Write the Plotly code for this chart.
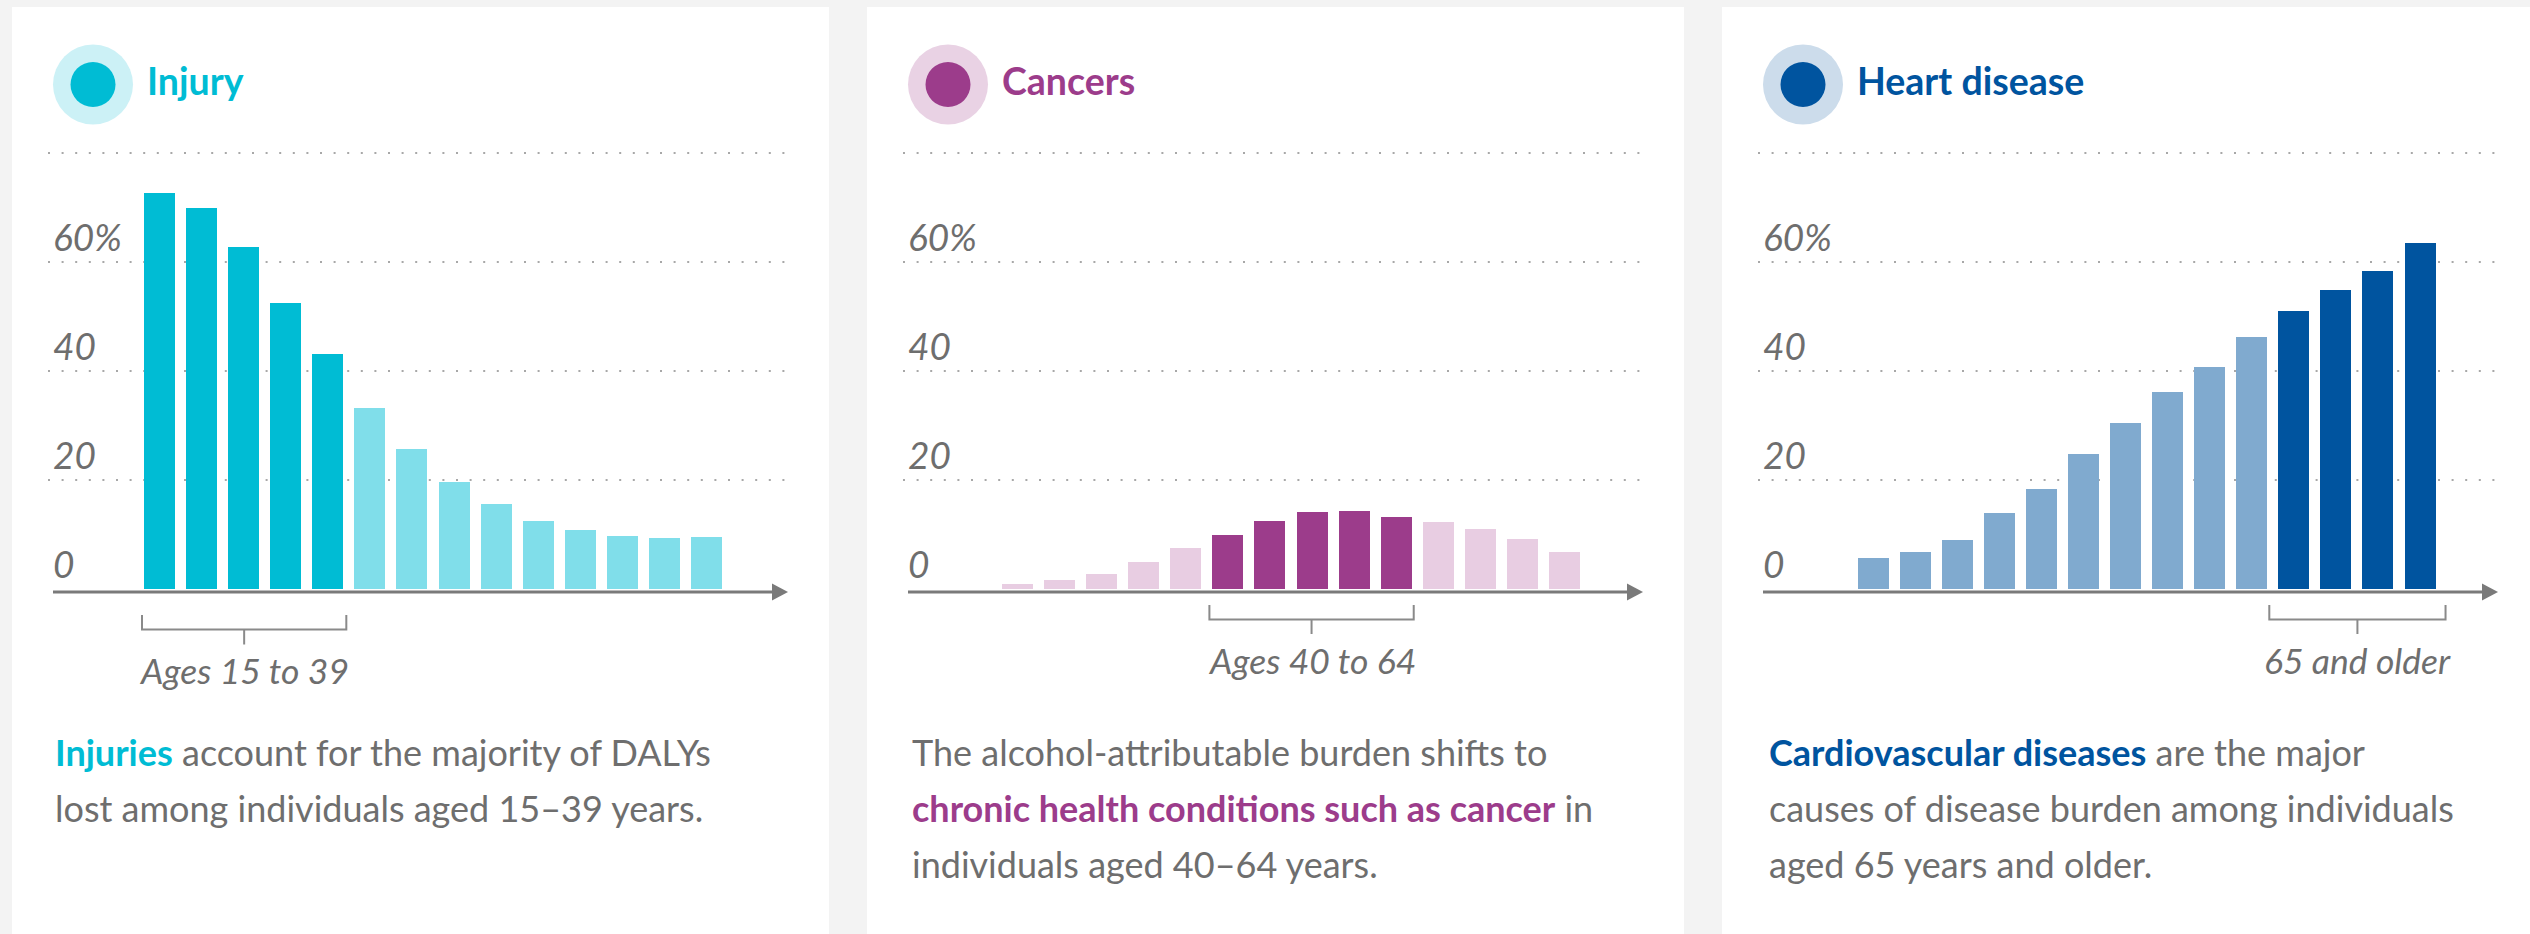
import plotly.graph_objects as go

W, H = 2530, 934

# ---------------- data ----------------
ages = ["15–19", "20–24", "25–29", "30–34", "35–39", "40–44", "45–49",
        "50–54", "55–59", "60–64", "65–69", "70–74", "75–79", "80+"]
injury = [72.6, 70.0, 62.7, 52.4, 43.2, 33.3, 25.7, 19.7, 15.6, 12.4, 10.9, 9.8, 9.3, 9.5]
cancers = [1.0, 1.6, 2.7, 4.9, 7.5, 10.0, 12.4, 14.1, 14.3, 13.3, 12.3, 11.1, 9.2, 6.7]
heart = [5.7, 6.8, 8.9, 14.0, 18.4, 24.8, 30.5, 36.2, 40.8, 46.3, 51.0, 54.9, 58.4, 63.4]
series = [injury, cancers, heart]

titles = ["Injury", "Cancers", "Heart disease"]
highlight = [(0, 4), (5, 9), (10, 13)]          # first/last highlighted age group
bracket_labels = ["Ages 15 to 39", "Ages 40 to 64", "65 and older"]
y_ticks = [0, 20, 40, 60]
y_tick_labels = ["0", "20", "40", "60%"]
grid_vals = [20, 40, 60, 80]

dark = ["#00BCD4", "#9C3C8B", "#00549F"]
light = ["#80DEEA", "#E8CDE2", "#80AACF"]
halo = ["#CCF1F6", "#E9D2E4", "#CCDCEB"]

body = [
    ["<span style='color:#00BCD4'><b>Injuries</b></span> account for the majority of DALYs",
     "lost among individuals aged 15–39 years."],
    ["The alcohol-attributable burden shifts to",
     "<span style='color:#9C3C8B'><b>chronic health conditions such as cancer</b></span> in",
     "individuals aged 40–64 years."],
    ["<span style='color:#00549F'><b>Cardiovascular diseases</b></span> are the major",
     "causes of disease burden among individuals",
     "aged 65 years and older."],
]

# ---------------- layout constants (pixels) ----------------
FONT = "Lato"
TXT = "#6E6E6E"
AXC = "#7A7A7A"
card_left = [12, 867, 1722]
card_w = 817
card_top = 7
bar1_rel = [132, 135, 135.5]
pitch = 42.08
bar_px = 31
ax_l_rel, ax_r_rel = 41, 776
y_zero_px, px_per_unit = 589.0, 5.45
y_dom_bot, y_dom_top = 600, 140
axis_y_px = 592
bracket_y = [(615, 629.5, 644.5), (605, 619.5, 634), (605, 619.5, 634)]
bracket_pad = [(2, 3), (3, 2), (9, 10)]
bracket_text_y = [670, 660.5, 660.5]
body_x_rel = [41, 43, 45]
body_y = [752, 808, 864]


def fx(px):
    return px / W


def fy(py):
    return 1 - py / H


fig = go.Figure()
shapes = []
annotations = []

for k in range(3):
    cl = card_left[k]
    # card
    shapes.append(dict(type="rect", xref="paper", yref="paper", layer="below",
                       x0=fx(cl), x1=fx(cl + card_w), y0=fy(H + 5), y1=fy(card_top),
                       fillcolor="white", line=dict(width=0)))

for k in range(3):
    cl = card_left[k]
    n = "" if k == 0 else str(k + 1)
    xa, ya = "x" + n, "y" + n
    vals = series[k]
    h0, h1 = highlight[k]
    colors = [dark[k] if h0 <= i <= h1 else light[k] for i in range(len(vals))]

    fig.add_trace(go.Bar(x=list(range(len(ages))), y=vals, customdata=ages,
                         marker=dict(color=colors, line=dict(width=0)),
                         width=bar_px / pitch, xaxis=xa, yaxis=ya,
                         hovertemplate="%{customdata}: %{y}%<extra></extra>",
                         showlegend=False))

    ax_l = cl + ax_l_rel
    ax_r = cl + ax_r_rel
    c0 = cl + bar1_rel[k] + bar_px / 2
    x0 = -(c0 - ax_l) / pitch
    x1 = x0 + (ax_r - ax_l) / pitch
    ylo = (y_zero_px - y_dom_bot) / px_per_unit
    yhi = (y_zero_px - y_dom_top) / px_per_unit

    xkey = "xaxis" + n
    ykey = "yaxis" + n
    fig.layout[xkey] = dict(domain=[fx(ax_l), fx(ax_r)], range=[x0, x1], anchor=ya,
                            showgrid=False, zeroline=False, showticklabels=False,
                            showline=False, fixedrange=True)
    fig.layout[ykey] = dict(domain=[fy(y_dom_bot), fy(y_dom_top)], range=[ylo, yhi],
                            anchor=xa, showgrid=False, zeroline=False,
                            showticklabels=False, showline=False, fixedrange=True)

    # dotted gridlines
    for gv in grid_vals:
        shapes.append(dict(type="line", xref="paper", yref=ya, layer="below",
                           x0=fx(cl + 36), x1=fx(cl + 773), y0=gv, y1=gv,
                           line=dict(color="#A8A8A8", width=2.2, dash="2px,11.6px")))
    # y tick labels
    for tv, tl in zip(y_ticks, y_tick_labels):
        annotations.append(dict(xref="paper", yref=ya, x=fx(cl + 39), y=tv,
                                xanchor="left", yanchor="middle", yshift=26,
                                text="<i>" + tl + "</i>", showarrow=False,
                                font=dict(family=FONT, size=37, color=TXT)))
    # axis line with arrow
    y_ax = (y_zero_px - axis_y_px) / px_per_unit
    shapes.append(dict(type="line", xref="paper", yref=ya, layer="above",
                       x0=fx(ax_l), x1=fx(ax_r - 12), y0=y_ax, y1=y_ax,
                       line=dict(color=AXC, width=3)))
    shapes.append(dict(type="path", xref="paper", yref="paper", layer="above",
                       path=f"M {fx(ax_r - 16)},{fy(axis_y_px - 8.5)} L {fx(ax_r)},{fy(axis_y_px)} "
                            f"L {fx(ax_r - 16)},{fy(axis_y_px + 8.5)} Z",
                       fillcolor=AXC, line=dict(width=0)))

    # bracket
    bw = bar_px / pitch
    bl = h0 - bw / 2 - bracket_pad[k][0] / pitch
    br = h1 + bw / 2 + bracket_pad[k][1] / pitch
    bmid = (bl + br) / 2
    yt, yh, yb = bracket_y[k]
    shapes.append(dict(type="path", xref=xa, yref="paper", layer="above",
                       path=f"M {bl},{fy(yt)} L {bl},{fy(yh)} L {br},{fy(yh)} L {br},{fy(yt)}",
                       line=dict(color="#8A8A8A", width=2)))
    shapes.append(dict(type="line", xref=xa, yref="paper", layer="above",
                       x0=bmid, x1=bmid, y0=fy(yh), y1=fy(yb),
                       line=dict(color="#8A8A8A", width=2)))
    annotations.append(dict(xref=xa, yref="paper", x=bmid, y=fy(bracket_text_y[k]),
                            xanchor="center", yanchor="middle",
                            text="<i>" + bracket_labels[k] + "</i>", showarrow=False,
                            font=dict(family=FONT, size=35.5, color=TXT)))

    # title halo + dot + title text
    cx, cy = cl + 81, 84.5
    shapes.append(dict(type="circle", xref="paper", yref="paper", layer="above",
                       x0=fx(cx - 40), x1=fx(cx + 40), y0=fy(cy + 40), y1=fy(cy - 40),
                       fillcolor=halo[k], line=dict(width=0)))
    shapes.append(dict(type="circle", xref="paper", yref="paper", layer="above",
                       x0=fx(cx - 22.5), x1=fx(cx + 22.5), y0=fy(cy + 22.5), y1=fy(cy - 22.5),
                       fillcolor=dark[k], line=dict(width=0)))
    annotations.append(dict(xref="paper", yref="paper", x=fx(cl + 133), y=fy(81),
                            xanchor="left", yanchor="middle",
                            text="<b>" + titles[k] + "</b>", showarrow=False,
                            font=dict(family=FONT, size=37.5, color=dark[k])))

    # body text
    for j, line in enumerate(body[k]):
        annotations.append(dict(xref="paper", yref="paper", x=fx(cl + body_x_rel[k]),
                                y=fy(body_y[j]), xanchor="left", yanchor="middle",
                                text=line, showarrow=False,
                                font=dict(family=FONT, size=36, color=TXT)))

fig.update_layout(width=W, height=H, margin=dict(l=0, r=0, t=0, b=0),
                  paper_bgcolor="#F3F3F3", plot_bgcolor="rgba(0,0,0,0)",
                  shapes=shapes, annotations=annotations, bargap=0,
                  font=dict(family=FONT, color=TXT))

fig.write_html("out.html")
